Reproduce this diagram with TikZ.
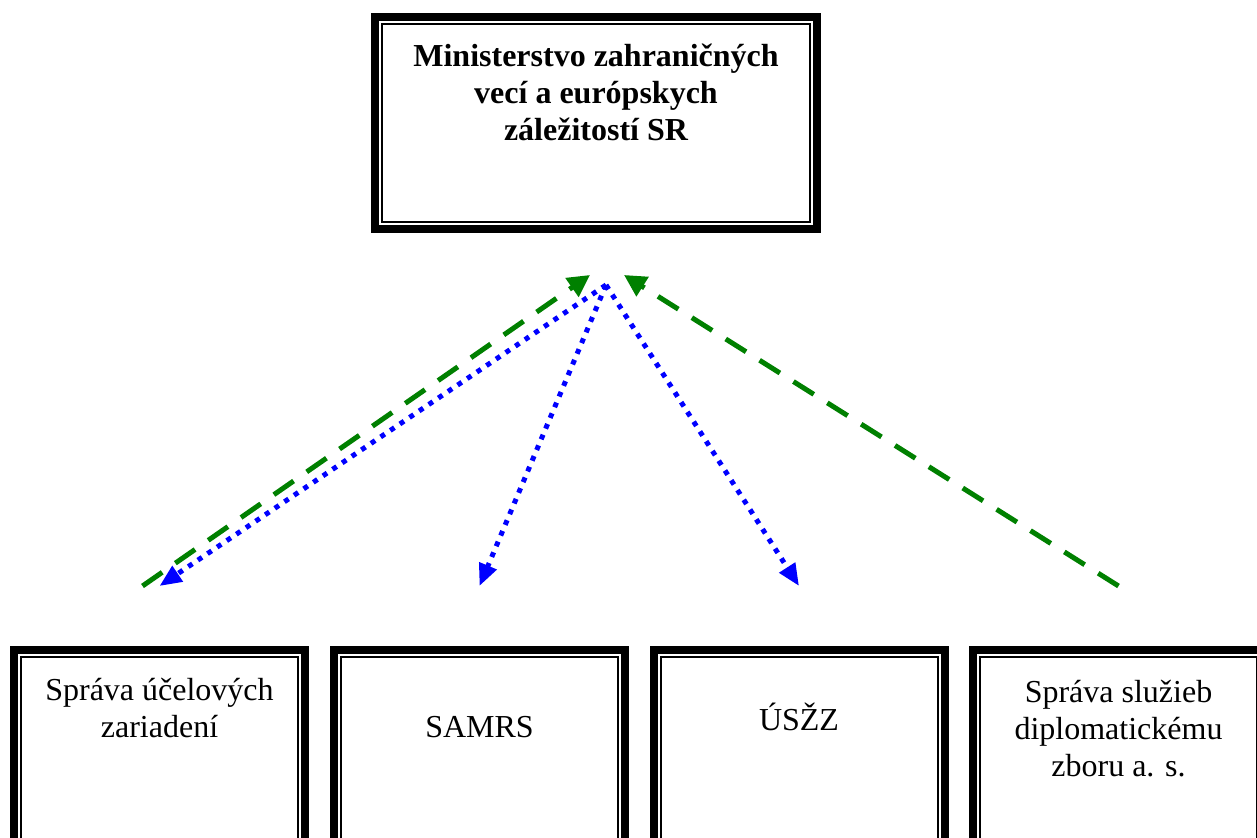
\documentclass[tikz,border=0pt]{standalone}
\usepackage{fontspec}
\setmainfont{Liberation Serif}
\usetikzlibrary{arrows.meta,positioning}

\tikzset{
  cornice/.style={draw=black, line width=4pt, inner sep=0pt, fill=white,
    path picture={\draw[line width=1pt]
      ([shift={(3.5pt,-3.5pt)}]path picture bounding box.north west) rectangle
      ([shift={(-3.5pt,3.5pt)}]path picture bounding box.south east);}},
  testo/.style={inner sep=0pt, align=center, font=\fontsize{16}{18.5}\selectfont},
  titolo/.style={testo, font=\fontsize{16}{18.5}\selectfont\bfseries},
  modra/.style={blue, line width=2.5pt, dash pattern=on 2.5pt off 3.3pt,
    -{Triangle[length=11pt,width=9pt]}},
  zelena/.style={green!50!black, line width=2.5pt, dash pattern=on 12pt off 8pt,
    -{Triangle[length=11pt,width=11pt]}}
}

\begin{document}
\begin{tikzpicture}[x=0.5pt,y=-0.5pt]
    \path[use as bounding box] (0,0) rectangle (1257,838);
    \clip (0,0) rectangle (1257,838);

    % riquadro in alto
    \node[cornice, minimum width=221pt, minimum height=106pt] (mzv) at (596,123) {};
    \node[titolo, anchor=north] (tmzv) at (596,44)
        {Ministerstvo zahraničných\\vecí a európskych\\záležitostí SR};

    % riquadri in basso
    \foreach \i/\x in {1/159.5,2/479.5,3/799,4/1118.5}
        \node[cornice, minimum width=145.5pt, minimum height=110pt] (s\i) at (\x,760) {};

    % testi
    \node[testo, anchor=north] (t1) at (159.5,678) {Správa účelových\\zariadení};
    \node[testo, anchor=base] (t2) at (479.5,737) {SAMRS};
    \node[testo, anchor=base] (t3) at (799,730) {ÚSŽZ};
    \node[testo, anchor=north] (t4) at (1118.5,680) {Správa služieb\\diplomatickému\\zboru a. s.};

    % punti delle frecce
    \coordinate (vertice) at ([xshift=5pt,yshift=-26pt]mzv.south);
    \coordinate (zsin) at ([xshift=-3pt,yshift=-21pt]mzv.south);
    \coordinate (zdes) at ([xshift=14pt,yshift=-21pt]mzv.south);
    \foreach \i in {1,2,3} \coordinate (h\i) at ([yshift=30pt]s\i.north);
    \coordinate (z1) at ([xshift=-8.5pt,yshift=30pt]s1.north);
    \coordinate (z4) at ([yshift=30pt]s4.north);

    % frecce verdi e blu
    \draw[zelena] (z1) -- (zsin);
    \draw[zelena] (z4) -- (zdes);
    \foreach \i in {1,2,3} \draw[modra] (vertice) -- (h\i);
\end{tikzpicture}
\end{document}
